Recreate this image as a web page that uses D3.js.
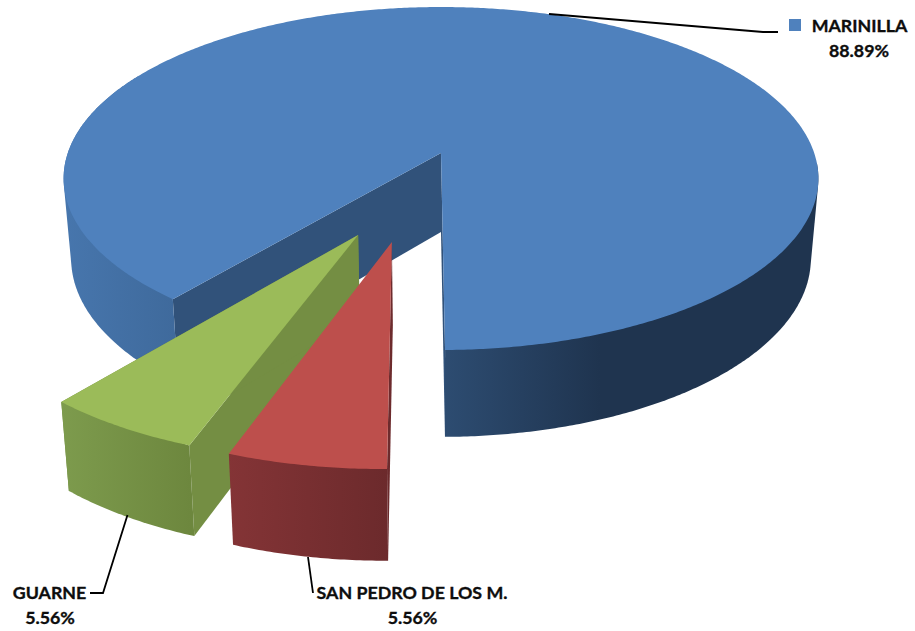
<!DOCTYPE html>
<html><head><meta charset="utf-8">
<script src="https://cdn.jsdelivr.net/npm/d3@7/dist/d3.min.js"></script>
<style>html,body{margin:0;padding:0;background:#fff}svg{display:block}text{font-family:Lato,"Open Sans",sans-serif;font-weight:700;font-size:17.8px;fill:#0d0d0d;stroke:#0d0d0d;stroke-width:0.35px}</style>
</head><body><svg id="c" width="915" height="631"></svg>
<script>
const categories = ["MARINILLA", "SAN PEDRO DE LOS M.", "GUARNE"];
const values = [88.89, 5.56, 5.56];
const topColors = ["#4f81bd", "#bd4f4c", "#9bbb59"];
const sideColors = ["#31527a", "#6d2b2d", "#748e43"];
const explode = [[0, 0], [-0.122, 0.492], [-0.207, 0.456]];
const radii = [1, 0.98, 0.985];
const wallStops = [
  [[63, "#4776ad"], [175, "#3f6a9c"], [445, "#2d4c71"], [600, "#1f344f"], [819, "#1f344f"]],
  [[228, "#843436"], [388, "#6c2a2c"]],
  [[61, "#7d9b4d"], [191, "#6d873e"]]
];
const labelLines = [
  {x: 859.5, y: 32, pctY: 57, pctX: 859},
  {x: 412, y: 599, pctY: 624, pctX: 412.5},
  {x: 49.5, y: 599, pctY: 624, pctX: 50}
];
const leaders = [
  [[549, 14], [763, 32], [778, 32]],
  [[308, 557], [313, 593]],
  [[127.5, 515], [103, 593], [90, 593]]
];

const svg = d3.select("#c");
const cx = 441, cy = 153, A = 167.7, B = 373.2, k = 0.1487;
const depth = 79, sX = 0.98, sY = 1.04;

const yScale = v => A * v / (1 - k * v);
const xScale = (u, v) => B * u / (1 - k * v);
function topPt(u, v) { return [cx + xScale(u, v), cy + yScale(v)]; }
function botPt(u, v) { return [cx + sX * xScale(u, v), cy + depth + sY * yScale(v)]; }

const rotation = 219.5 * Math.PI / 180;
const arcs = d3.pie().sort(null).value(d => d).startAngle(rotation).endAngle(rotation + 2 * Math.PI)(values);

const defs = svg.append("defs");
wallStops.forEach((stops, i) => {
  const g = defs.append("linearGradient").attr("id", "w" + i).attr("gradientUnits", "userSpaceOnUse")
    .attr("x1", stops[0][0]).attr("x2", stops[stops.length - 1][0]).attr("y1", 0).attr("y2", 0);
  const s0 = stops[0][0], s1 = stops[stops.length - 1][0];
  stops.forEach(s => g.append("stop").attr("offset", (s[0] - s0) / (s1 - s0)).attr("stop-color", s[1]));
});

const line = d3.line();
function pointAt(i, a, r) {
  return [explode[i][0] + r * Math.sin(a), explode[i][1] - r * Math.cos(a)];
}
function drawWedge(i) {
  const d = arcs[i], R = radii[i], step = Math.PI / 360;
  const angles = d3.range(d.startAngle, d.endAngle, step).concat([d.endAngle]);
  const g = svg.append("g");
  const apex = explode[i];
  const face = (a) => {
    const p = pointAt(i, a, R);
    g.append("path").attr("d", line([topPt(...apex), topPt(...p), botPt(...p), botPt(...apex)]) + "Z")
      .attr("fill", sideColors[i]);
  };
  if (i !== 1) { face(d.startAngle); face(d.endAngle); } else { face(d.startAngle); }
  // outer wall: only the front-facing runs of the rim; the top face hides the rest of each hull
  const runs = i === 0
    ? [angles.filter(a => a < rotation + 1.4), angles.filter(a => a > rotation + 2 * Math.PI - 2.2)]
    : [angles];
  runs.forEach(run => {
    const hull = d3.polygonHull(run.flatMap(a => {
      const p = pointAt(i, a, R);
      return [topPt(...p), botPt(...p)];
    }));
    g.append("path").attr("d", line(hull) + "Z").attr("fill", `url(#w${i})`);
  });
  const pts = [topPt(...apex)].concat(angles.map(a => topPt(...pointAt(i, a, R))));
  g.append("path").attr("d", line(pts) + "Z").attr("fill", topColors[i]);
}
drawWedge(0);
drawWedge(2);
drawWedge(1);

svg.append("g").selectAll("path").data(leaders).join("path")
  .attr("d", d => line(d)).attr("fill", "none").attr("stroke", "#000").attr("stroke-width", 1.8);

svg.append("rect").attr("x", 789).attr("y", 19).attr("width", 12).attr("height", 12).attr("fill", topColors[0]);

const pct = d3.format(".2f");
categories.forEach((c, i) => {
  svg.append("text").attr("x", labelLines[i].x).attr("y", labelLines[i].y).attr("text-anchor", "middle").text(c);
  svg.append("text").attr("x", labelLines[i].pctX).attr("y", labelLines[i].pctY).attr("text-anchor", "middle").text(pct(values[i]) + "%");
});
</script></body></html>
